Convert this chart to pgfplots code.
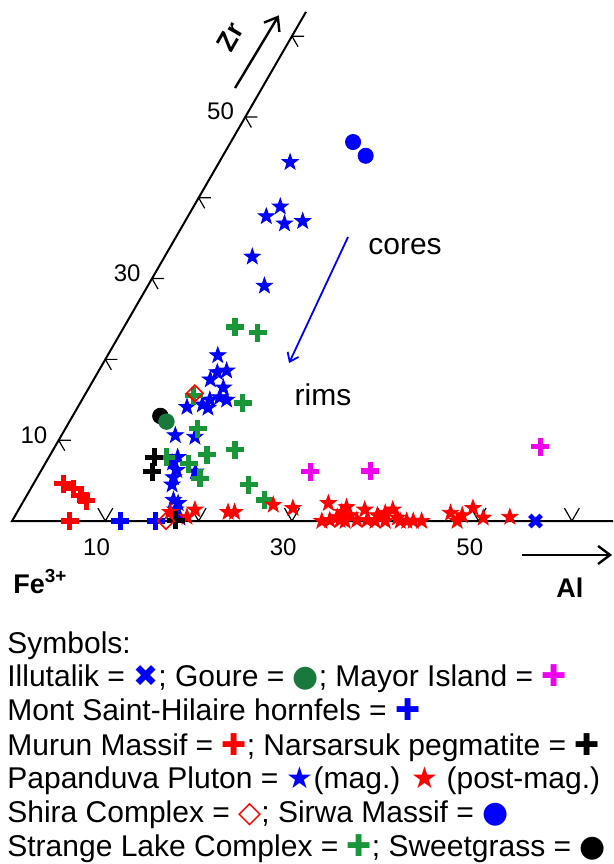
\documentclass[border=0pt]{standalone}
\usepackage{fontspec}
\setmainfont{Liberation Sans}
\newfontfamily\sym{DejaVu Sans}
\usepackage{pgfplots}
\pgfplotsset{compat=1.18}
\usepackage{pgfplotstable}
\usetikzlibrary{arrows.meta}

\definecolor{slgreen}{RGB}{25,150,55}
\definecolor{gourec}{RGB}{25,120,60}
\definecolor{mag}{RGB}{240,0,240}

\pgfdeclareplotmark{fstar}{%
 \pgfpathmoveto{\pgfpointpolar{90}{\pgfplotmarksize}}%
 \pgfpathlineto{\pgfpointpolar{126}{0.4\pgfplotmarksize}}%
 \pgfpathlineto{\pgfpointpolar{162}{\pgfplotmarksize}}%
 \pgfpathlineto{\pgfpointpolar{198}{0.4\pgfplotmarksize}}%
 \pgfpathlineto{\pgfpointpolar{234}{\pgfplotmarksize}}%
 \pgfpathlineto{\pgfpointpolar{270}{0.4\pgfplotmarksize}}%
 \pgfpathlineto{\pgfpointpolar{306}{\pgfplotmarksize}}%
 \pgfpathlineto{\pgfpointpolar{342}{0.4\pgfplotmarksize}}%
 \pgfpathlineto{\pgfpointpolar{18}{\pgfplotmarksize}}%
 \pgfpathlineto{\pgfpointpolar{54}{0.4\pgfplotmarksize}}%
 \pgfpathclose\pgfusepathqfillstroke}

% Ternary data: Al and Zr (Fe3+ = remainder), in %
\pgfplotstableread{
al zr
13.1 46.9
15.3 45.2
}\sirwa
\pgfplotstableread{
al zr
7.6 44.4
8.4 37.7
9.3 38.9
10.8 36.8
12.6 37.1
9.4 32.7
12.5 29.1
11.8 20.5
12.8 18.4
13.7 18.6
12.5 17.5
14.4 16.5
14.6 15.3
13.7 15.0
15.5 15.0
11.7 14.1
14.0 14.0
13.2 14.4
12.2 10.6
14.4 10.4
13.8 7.9
13.6 7.2
14.5 6.3
14.6 5.4
16.6 6.1
14.9 4.5
16.0 2.6
16.7 2.2
16.8 1.4
17.8 0.4
}\papmag
\pgfplotstableread{
al zr
16.4 1.1
18.5 0.5
18.9 1.4
22.6 1.1
23.3 1.1
27.0 2.0
29.3 1.6
33.2 0.0
32.8 2.2
34.6 0.5
35.0 1.7
35.9 0.7
36.9 0.1
38.0 0.1
38.8 0.7
39.5 1.0
40.1 1.4
41.1 0.4
42.3 0.0
43.0 0.0
43.9 0.0
46.5 1.0
47.7 0.0
47.9 0.7
48.6 1.6
50.3 0.4
53.1 0.5
34.0 0.1
35.1 0.1
35.7 0.0
38.9 0.0
40.0 0.0
41.6 0.0
34.8 1.1
37.1 1.4
}\pappost
\pgfplotstableread{
al zr
11.9 24.0
14.7 23.3
11.7 15.5
17.4 14.6
14.2 11.4
19.5 8.8
16.8 8.2
12.6 7.9
15.4 7.1
17.5 5.3
23.1 4.5
25.8 2.6
}\strange
\pgfplotstableread{
al zr
9.4 13.0
}\sweet
\pgfplotstableread{
al zr
10.4 12.3
}\goure
\pgfplotstableread{
al zr
11.7 15.8
16.5 0.0
}\shira
\pgfplotstableread{
al zr
11.3 7.9
12.0 6.1
17.5 0.1
}\narsar
\pgfplotstableread{
al zr
11.6 0.0
15.4 0.0
}\msh
\pgfplotstableread{
al zr
3.2 4.6
4.6 4.0
5.8 3.2
6.7 2.5
6.2 0.0
}\murun
\pgfplotstableread{
al zr
28.9 6.1
35.3 6.2
52.0 9.2
}\mayor
\pgfplotstableread{
al zr
56.1 0.0
}\illut

\def\TX{\thisrow{al}+0.5*\thisrow{zr}}
\def\TY{0.8660254*\thisrow{zr}}

\begin{document}
\begin{tikzpicture}[font=\fontsize{12}{14}\selectfont]
\begin{axis}[
  x=4.665pt, y=4.665pt,
  xmin=-1.29, xmax=64.41, ymin=-36.76, ymax=55.84,
  axis lines=none, clip=false,
  crossmk/.style={only marks, mark=+, mark size=4.5pt, mark options={line width=2.6pt}},
]
% triangle edges
\addplot[black, line width=1pt] coordinates {(31.5,54.56) (0,0) (64.41,0)};
% Zr-axis ticks
\draw[line width=0.6pt] (axis cs:6.3,8.660) -- (axis cs:5,8.660) -- (axis cs:5.65,7.534);
\draw[line width=0.6pt] (axis cs:11.3,17.321) -- (axis cs:10,17.321) -- (axis cs:10.65,16.195);
\draw[line width=0.6pt] (axis cs:16.3,25.981) -- (axis cs:15,25.981) -- (axis cs:15.65,24.855);
\draw[line width=0.6pt] (axis cs:21.3,34.641) -- (axis cs:20,34.641) -- (axis cs:20.65,33.515);
\draw[line width=0.6pt] (axis cs:26.3,43.301) -- (axis cs:25,43.301) -- (axis cs:25.65,42.175);
\draw[line width=0.6pt] (axis cs:31.3,51.962) -- (axis cs:30,51.962) -- (axis cs:30.65,50.836);
% Al-axis ticks
\draw[line width=0.6pt] (axis cs:9.2,1.386) -- (axis cs:10,0) -- (axis cs:10.8,1.386);
\draw[line width=0.6pt] (axis cs:19.2,1.386) -- (axis cs:20,0) -- (axis cs:20.8,1.386);
\draw[line width=0.6pt] (axis cs:29.2,1.386) -- (axis cs:30,0) -- (axis cs:30.8,1.386);
\draw[line width=0.6pt] (axis cs:39.2,1.386) -- (axis cs:40,0) -- (axis cs:40.8,1.386);
\draw[line width=0.6pt] (axis cs:49.2,1.386) -- (axis cs:50,0) -- (axis cs:50.8,1.386);
\draw[line width=0.6pt] (axis cs:59.2,1.386) -- (axis cs:60,0) -- (axis cs:60.8,1.386);
% tick labels
\node[anchor=base east, inner sep=0pt, xshift=-5.5pt, yshift=-1.5pt] at (axis cs:5,8.660) {10};
\node[anchor=base east, inner sep=0pt, xshift=-5.5pt, yshift=-1.5pt] at (axis cs:15,25.981) {30};
\node[anchor=base east, inner sep=0pt, xshift=-5.5pt, yshift=-1.5pt] at (axis cs:25,43.301) {50};
\node[anchor=north east, inner sep=0pt, xshift=2.5pt, yshift=-8.5pt] at (axis cs:10,0) {10};
\node[anchor=north east, inner sep=0pt, xshift=2.5pt, yshift=-8.5pt] at (axis cs:30,0) {30};
\node[anchor=north east, inner sep=0pt, xshift=2.5pt, yshift=-8.5pt] at (axis cs:50,0) {50};
% apex labels and arrows
\node[anchor=base west, inner sep=0pt, font=\fontsize{13.5}{15}\selectfont\bfseries] at (axis cs:0.11,-7.72) {Fe\textsuperscript{3+}};
\node[anchor=base west, inner sep=0pt, font=\fontsize{13.5}{15}\selectfont\bfseries] at (axis cs:58.3,-8.15) {Al};
\draw[line width=1.2pt, -{Straight Barb[length=6pt,width=9pt]}] (axis cs:54.66,-3.64) -- (axis cs:64.31,-3.64);
\draw[line width=1.2pt, -{Straight Barb[length=6pt,width=9pt]}] (axis cs:23.9,46.4) -- (axis cs:28.6,54.2);
\node[rotate=60, inner sep=0pt, font=\fontsize{13.5}{15}\selectfont\bfseries] at (axis cs:23.4,51.9) {Zr};
\draw[blue, line width=0.9pt, -{Straight Barb[length=4pt,width=6pt]}] (axis cs:36.01,30.44) -- (axis cs:29.69,16.93);
\node[inner sep=0pt, font=\fontsize{15}{17}\selectfont] at (axis cs:42.12,29.37) {cores};
\node[inner sep=0pt, font=\fontsize{15}{17}\selectfont] at (axis cs:33.33,13.5) {rims};

% data
\addplot[blue, only marks, mark=fstar, mark size=4.2pt] table[x expr=\TX, y expr=\TY] {\papmag};
\addplot[slgreen, crossmk] table[x expr=\TX, y expr=\TY] {\strange};
\addplot[red, only marks, mark=fstar, mark size=4.2pt] table[x expr=\TX, y expr=\TY] {\pappost};
\addplot[black, only marks, mark=*, mark size=3.9pt] table[x expr=\TX, y expr=\TY] {\sweet};
\addplot[gourec, only marks, mark=*, mark size=3.9pt] table[x expr=\TX, y expr=\TY] {\goure};
\addplot[black, crossmk] table[x expr=\TX, y expr=\TY] {\narsar};
\addplot[red, crossmk] table[x expr=\TX, y expr=\TY] {\murun};
\addplot[blue, crossmk] table[x expr=\TX, y expr=\TY] {\msh};
\addplot[mag, crossmk] table[x expr=\TX, y expr=\TY] {\mayor};
\addplot[blue, only marks, mark=x, mark size=4pt, mark options={line width=2.4pt}] table[x expr=\TX, y expr=\TY] {\illut};
\addplot[blue, only marks, mark=*, mark size=3.8pt] table[x expr=\TX, y expr=\TY] {\sirwa};
\addplot[red, only marks, mark=square, mark size=2.9pt, mark options={rotate=45, line width=0.8pt}] table[x expr=\TX, y expr=\TY] {\shira};

% symbol key
\begin{scope}[every node/.style={anchor=base west, inner sep=0pt, font=\fontsize{15}{17}\selectfont}]
\node at (axis cs:-0.54,-14.15) {Symbols:};
\node at (axis cs:-0.54,-17.79) {Illutalik = {\color{blue}\sym ✖}; Goure = {\color{gourec}\sym ●}; Mayor Island = {\color{mag}\sym ✚}};
\node at (axis cs:-0.54,-21.43) {Mont Saint-Hilaire hornfels = {\color{blue}\sym ✚}};
\node at (axis cs:-0.54,-25.08) {Murun Massif = {\color{red}\sym ✚}; Narsarsuk pegmatite = {\sym ✚}};
\node at (axis cs:-0.54,-28.72) {Papanduva Pluton = {\color{blue}\sym ★}(mag.) {\color{red}\sym ★} (post-mag.)};
\node at (axis cs:-0.54,-32.36) {Shira Complex = {\color{red}\sym ◇}; Sirwa Massif = {\color{blue}\sym ●}};
\node at (axis cs:-0.54,-36.00) {Strange Lake Complex = {\color{slgreen}\sym ✚}; Sweetgrass = {\sym ●}};
\end{scope}
\end{axis}
\pgfresetboundingbox
\path (current axis.south west) rectangle (current axis.north east);
\end{tikzpicture}
\end{document}
